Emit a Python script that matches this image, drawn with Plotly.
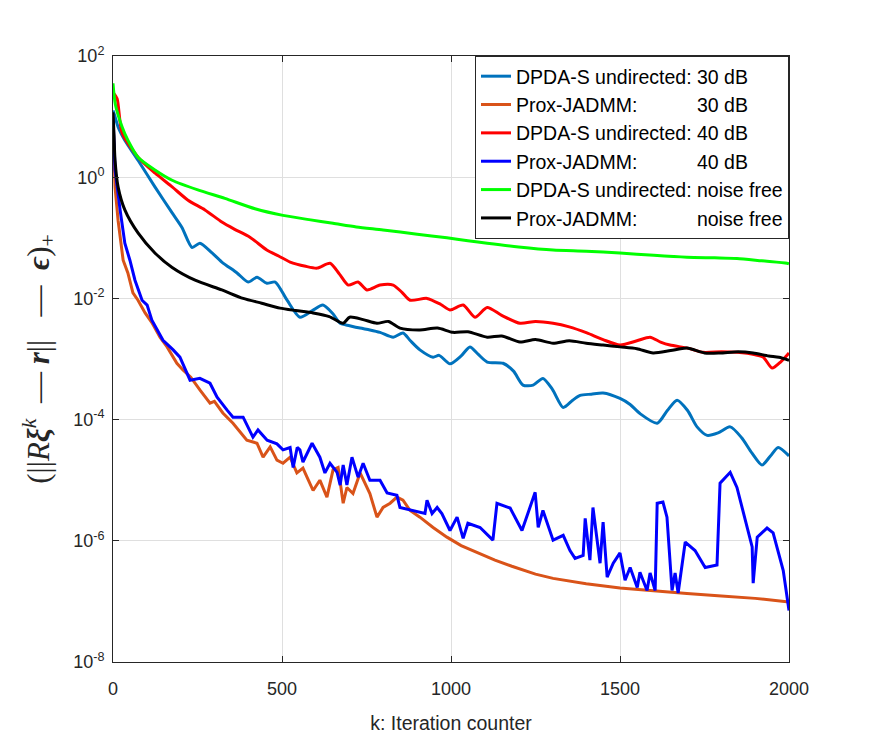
import plotly.graph_objects as go

# ---- data (x = iteration k, values as log10 of the metric) ----
dpda30_k = [0, 6, 15, 35, 74, 124, 175, 204, 234, 257, 293, 322, 367, 400, 426, 455, 480, 515, 553, 590, 621,
            650, 672, 700, 731, 760, 790, 829, 858, 880, 908, 947, 965, 997, 1030, 1056, 1080, 1107, 1154, 1185,
            1213, 1243, 1272, 1300, 1332, 1360, 1382, 1415, 1450, 1500, 1530, 1559, 1610, 1640, 1669, 1700,
            1728, 1758, 1790, 1826, 1860, 1890, 1920, 1945, 1968, 2000]
dpda30_log = [1.1, 1.0, 0.83, 0.61, 0.28, -0.16, -0.59, -0.83, -1.16, -1.09, -1.25, -1.4, -1.58, -1.73, -1.65,
              -1.75, -1.73, -2.03, -2.31, -2.2, -2.11, -2.25, -2.41, -2.45, -2.49, -2.52, -2.56, -2.64, -2.57,
              -2.7, -2.85, -2.97, -2.94, -3.08, -2.95, -2.8, -2.92, -3.05, -3.07, -3.2, -3.43, -3.43, -3.32,
              -3.5, -3.8, -3.68, -3.6, -3.58, -3.56, -3.65, -3.75, -3.9, -4.06, -3.85, -3.68, -3.85, -4.12,
              -4.26, -4.22, -4.12, -4.3, -4.55, -4.75, -4.6, -4.46, -4.6]

prox30_k = [0, 3, 6, 15, 30, 44, 59, 74, 95, 115, 139, 160, 189, 207, 230, 257, 287, 300, 325, 355, 396, 426,
            444, 465, 485, 503, 524, 544, 562, 574, 592, 612, 633, 651, 666, 681, 692, 710, 731, 760, 781, 799,
            820, 840, 858, 879, 908, 947, 988, 1030, 1080, 1130, 1180, 1250, 1302, 1400, 1500, 1600, 1698, 1800,
            1900, 2000]
prox30_log = [1.0, 0.4, -0.16, -0.71, -1.37, -1.58, -1.91, -2.03, -2.24, -2.4, -2.64, -2.8, -3.07, -3.18, -3.3,
              -3.51, -3.73, -3.7, -3.89, -4.06, -4.34, -4.39, -4.62, -4.45, -4.67, -4.72, -4.62, -4.88, -4.8,
              -4.95, -5.17, -5.0, -5.28, -4.83, -4.79, -5.38, -5.12, -5.22, -4.88, -5.22, -5.61, -5.45, -5.38,
              -5.28, -5.33, -5.5, -5.61, -5.78, -5.94, -6.08, -6.2, -6.32, -6.42, -6.55, -6.62, -6.71, -6.78,
              -6.83, -6.87, -6.91, -6.95, -7.01]

dpda40_k = [0, 12, 27, 74, 124, 175, 222, 272, 322, 360, 405, 455, 490, 524, 570, 604, 642, 670, 696, 725, 751,
            790, 829, 855, 879, 929, 970, 997, 1036, 1071, 1107, 1150, 1204, 1250, 1302, 1350, 1402, 1450, 1500,
            1550, 1589, 1620, 1648, 1700, 1746, 1800, 1846, 1900, 1924, 1950, 1975, 2000]
dpda40_log = [1.4, 1.3, 0.73, 0.33, 0.07, -0.16, -0.38, -0.54, -0.74, -0.86, -0.99, -1.2, -1.3, -1.4, -1.47,
              -1.5, -1.42, -1.6, -1.78, -1.73, -1.86, -1.78, -1.78, -1.9, -2.03, -2.0, -2.1, -2.19, -2.11,
              -2.31, -2.15, -2.28, -2.41, -2.38, -2.41, -2.47, -2.57, -2.68, -2.77, -2.7, -2.64, -2.72, -2.77,
              -2.82, -2.89, -2.88, -2.89, -2.93, -2.97, -3.15, -3.05, -2.9]

prox40_k = [0, 3, 6, 21, 35, 50, 65, 86, 101, 115, 130, 148, 178, 198, 228, 257, 287, 308, 337, 355, 385, 414,
            429, 456, 485, 503, 524, 533, 545, 553, 562, 589, 612, 627, 642, 663, 672, 681, 692, 707, 725, 740,
            760, 790, 811, 840, 849, 888, 923, 929, 944, 959, 973, 997, 1018, 1036, 1050, 1086, 1124, 1136, 1175,
            1210, 1249, 1258, 1272, 1302, 1332, 1352, 1367, 1391, 1397, 1411, 1420, 1441, 1450, 1462, 1480,
            1500, 1515, 1530, 1551, 1559, 1580, 1589, 1604, 1610, 1627, 1639, 1654, 1663, 1672, 1693, 1722,
            1752, 1787, 1796, 1826, 1846, 1870, 1891, 1894, 1906, 1935, 1953, 1983, 1997, 2000]
prox40_log = [1.0, 0.6, 0.12, -0.54, -1.09, -1.37, -1.7, -2.03, -2.11, -2.36, -2.52, -2.69, -2.85, -2.97, -3.35,
              -3.32, -3.4, -3.63, -3.84, -3.96, -3.96, -4.29, -4.17, -4.34, -4.4, -4.5, -4.46, -4.79, -4.46,
              -4.5, -4.7, -4.39, -4.62, -4.88, -4.72, -4.87, -5.08, -4.75, -5.08, -4.62, -4.95, -4.72, -5.0,
              -5.0, -5.21, -5.25, -5.45, -5.5, -5.55, -5.33, -5.55, -5.45, -5.55, -5.83, -5.61, -5.96, -5.71,
              -5.78, -5.99, -5.38, -5.46, -5.83, -5.2, -5.78, -5.5, -5.99, -5.91, -6.16, -6.29, -6.24, -5.63,
              -6.32, -5.45, -6.37, -5.69, -6.6, -6.37, -6.2, -6.65, -6.44, -6.77, -6.52, -6.82, -6.53, -6.82,
              -5.38, -5.36, -5.61, -6.82, -6.53, -6.86, -6.02, -6.16, -6.44, -6.4, -5.05, -4.87, -5.12, -5.66,
              -6.1, -6.7, -5.94, -5.79, -5.87, -6.49, -7.1, -7.15]

dpdanf_k = [0, 7, 27, 44, 74, 124, 175, 251, 331, 420, 503, 580, 651, 720, 799, 900, 988, 1050, 1107, 1200, 1302,
            1400, 1500, 1600, 1698, 1780, 1846, 1920, 1994, 2000]
dpdanf_log = [1.55, 1.2, 0.83, 0.61, 0.33, 0.12, -0.05, -0.21, -0.35, -0.52, -0.63, -0.7, -0.76, -0.82, -0.87,
              -0.94, -1.0, -1.05, -1.09, -1.15, -1.2, -1.22, -1.25, -1.29, -1.32, -1.33, -1.34, -1.38, -1.42, -1.43]

proxnf_k = [0, 3, 6, 15, 35, 74, 124, 175, 243, 322, 385, 440, 494, 540, 592, 640, 681, 700, 740, 781, 815, 849,
            908, 960, 1006, 1050, 1107, 1150, 1204, 1250, 1302, 1350, 1400, 1450, 1500, 1550, 1598, 1650, 1698,
            1750, 1796, 1850, 1894, 1940, 1970, 2000]
proxnf_log = [1.07, 0.7, 0.28, -0.16, -0.54, -0.92, -1.25, -1.49, -1.7, -1.86, -2.0, -2.08, -2.16, -2.2, -2.24,
              -2.3, -2.41, -2.31, -2.35, -2.41, -2.38, -2.49, -2.52, -2.49, -2.56, -2.55, -2.64, -2.62, -2.72,
              -2.68, -2.74, -2.7, -2.74, -2.77, -2.8, -2.83, -2.9, -2.86, -2.82, -2.9, -2.9, -2.88, -2.9, -2.95,
              -2.97, -3.02]

NB = "\u00a0"
series = [
    ("DPDA-S undirected:" + NB + "30 dB", dpda30_k, dpda30_log, "#0072BD", "spline"),
    ("Prox-JADMM:" + NB * 11 + "30 dB", prox30_k, prox30_log, "#D95319", "linear"),
    ("DPDA-S undirected:" + NB + "40 dB", dpda40_k, dpda40_log, "#FF0000", "spline"),
    ("Prox-JADMM:" + NB * 11 + "40 dB", prox40_k, prox40_log, "#0000FF", "linear"),
    ("DPDA-S undirected:" + NB + "noise free", dpdanf_k, dpdanf_log, "#00FF00", "spline"),
    ("Prox-JADMM:" + NB * 11 + "noise free", proxnf_k, proxnf_log, "#000000", "spline"),
]

fig = go.Figure()
for name, ks, lv, col, shp in series:
    line = dict(color=col, width=3, shape=shp)
    if shp == "spline":
        line["smoothing"] = 0.7
    fig.add_trace(go.Scatter(x=ks, y=[10 ** v for v in lv], mode="lines", name=name, line=line))

axis_col = "#262626"
grid_col = "#dfdfdf"
ytv = [1e-8, 1e-6, 1e-4, 1e-2, 1e0, 1e2]
ytt = ["10<sup>-8</sup>", "10<sup>-6</sup>", "10<sup>-4</sup>", "10<sup>-2</sup>", "10<sup>0</sup>", "10<sup>2</sup>"]

ytitle = ("(||<i>R</i><b><i>ξ</i></b><sup><i>k</i></sup>" + NB * 2 + "—" + NB + "<b><i>r</i></b>||"
          + NB * 3 + "—" + NB * 2 + "<b><i>ϵ</i></b>)<sub>+</sub>" + NB * 6)

fig.update_layout(
    width=872, height=746,
    margin=dict(l=113, r=83, t=56, b=84),
    paper_bgcolor="white", plot_bgcolor="white",
    font=dict(family="Liberation Sans, Arial, sans-serif", size=18, color=axis_col),
    showlegend=True,
    legend=dict(x=1, xanchor="right", y=1, yanchor="top", bgcolor="white",
                bordercolor=axis_col, borderwidth=1, font=dict(size=19.5, color="#000000"),
                tracegroupgap=0),
    xaxis=dict(range=[0, 2000], tickvals=[0, 500, 1000, 1500, 2000], showgrid=True, gridcolor=grid_col,
               zeroline=False, showline=True, linecolor=axis_col, linewidth=1, mirror="ticks",
               ticks="inside", ticklen=6, tickcolor=axis_col, ticklabelstandoff=10,
               title=dict(text="k: Iteration counter", font=dict(size=19.5, color=axis_col), standoff=18)),
    yaxis=dict(type="log", range=[-8, 2], tickvals=ytv, ticktext=ytt, showgrid=True, gridcolor=grid_col,
               zeroline=False, showline=True, linecolor=axis_col, linewidth=1, mirror="ticks",
               ticks="inside", ticklen=6, tickcolor=axis_col, ticklabelstandoff=4,
               title=dict(text=ytitle,
                          font=dict(family="Liberation Serif, DejaVu Serif, serif", size=31, color=axis_col),
                          standoff=14)),
)

fig.write_html("out.html", config={"displayModeBar": False},
               post_script="document.body.style.margin='0px';")
